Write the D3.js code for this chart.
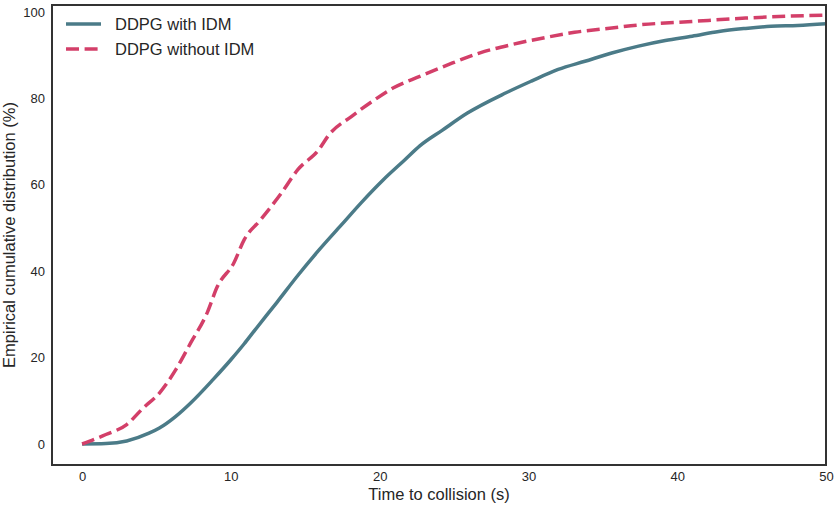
<!DOCTYPE html>
<html>
<head>
<meta charset="utf-8">
<script src="https://cdn.jsdelivr.net/npm/d3@7"></script>
<style>
  body { margin: 0; background: #fff; }
  svg { display: block; font-family: "Liberation Sans", Arial, sans-serif; }
</style>
</head>
<body>
<div id="chart"></div>
<script>
// time to collision (s) and empirical CDF (%)
const timeWithIdm = [0, 1.6, 3.0, 4.5, 5.2, 6.3, 7.3, 8.8, 10.0, 10.9, 11.6, 13.1, 14.5, 15.9, 17.4, 18.8, 20.2, 21.7, 22.7, 24.2, 25.9, 28.5, 30.2, 32.0, 33.8, 35.6, 37.4, 39.2, 41.0, 42.8, 44.6, 46.3, 48.1, 50];
const cdfWithIdm = [0, 0.1, 0.7, 2.5, 3.7, 6.4, 9.5, 14.9, 19.5, 23.2, 26.3, 32.8, 39.0, 44.8, 50.6, 56.0, 61.0, 65.8, 69.0, 72.6, 76.6, 81.3, 84, 86.7, 88.6, 90.5, 92.1, 93.4, 94.4, 95.5, 96.2, 96.7, 96.9, 97.3];

const timeWithoutIdm = [0, 1.6, 3.0, 4.1, 5.2, 6.3, 7.3, 8.4, 9.1, 10.2, 10.9, 12.0, 13.4, 14.5, 15.9, 16.6, 18.1, 19.5, 20.9, 22.7, 24.9, 26.7, 28.8, 31.0, 33.1, 35.6, 37.4, 41.0, 44.6, 50];
const cdfWithoutIdm = [0, 2.2, 4.5, 8.3, 11.8, 17.2, 23.4, 30.3, 36.5, 41.9, 47.3, 51.9, 58.1, 63.5, 68.1, 71.6, 75.8, 79.3, 82.4, 85.1, 88.2, 90.5, 92.4, 94, 95.3, 96.3, 97, 97.8, 98.6, 99.3];

const xTicks = [0, 10, 20, 30, 40, 50];
const yTicks = [0, 20, 40, 60, 80, 100];
const seriesNames = ["DDPG with IDM", "DDPG without IDM"];

const svgWidth = 835;
const svgHeight = 505;
const margin = { top: 5, right: 9, bottom: 40, left: 52 };
const chartWidth = svgWidth - margin.left - margin.right;
const chartHeight = svgHeight - margin.top - margin.bottom;

const svg = d3.select("#chart")
    .append("svg")
    .attr("width", svgWidth)
    .attr("height", svgHeight);

const chart = svg.append("g")
    .attr("transform", `translate(${margin.left},${margin.top})`);

const xScale = d3.scaleLinear()
    .domain([-2.02, 50])
    .range([0, chartWidth]);

const yScale = d3.scaleLinear()
    .domain([-4.86, 101.62])
    .range([chartHeight, 0]);

chart.append("clipPath")
    .attr("id", "clip")
    .append("rect")
    .attr("width", chartWidth)
    .attr("height", chartHeight);

// axes without tick marks (seaborn white style)
const xAxis = chart.append("g")
    .attr("transform", `translate(0,${chartHeight})`)
    .call(d3.axisBottom(xScale).tickValues(xTicks).tickSize(0).tickPadding(7));

const yAxis = chart.append("g")
    .call(d3.axisLeft(yScale).tickValues(yTicks).tickSize(0).tickPadding(7));

[xAxis, yAxis].forEach(ax => {
    ax.select(".domain").remove();
    ax.selectAll("text")
        .style("font-size", "13px")
        .style("font-family", "Liberation Sans, Arial, sans-serif")
        .attr("fill", "#262626");
});

const series = [
    { name: seriesNames[0], t: timeWithIdm, v: cdfWithIdm, color: "#4b7b88", dash: null },
    { name: seriesNames[1], t: timeWithoutIdm, v: cdfWithoutIdm, color: "#d33f69", dash: "13,5.6" }
];

const line = d3.line()
    .curve(d3.curveMonotoneX)
    .x(d => xScale(d[0]))
    .y(d => yScale(d[1]));

chart.selectAll(".series")
    .data(series)
    .enter()
    .append("path")
    .attr("class", "series")
    .attr("clip-path", "url(#clip)")
    .attr("d", s => line(s.t.map((t, i) => [t, s.v[i]])))
    .attr("fill", "none")
    .attr("stroke", s => s.color)
    .attr("stroke-width", 3.5)
    .attr("stroke-dasharray", s => s.dash);

// frame
chart.append("rect")
    .attr("width", chartWidth)
    .attr("height", chartHeight)
    .attr("fill", "none")
    .attr("stroke", "#333")
    .attr("stroke-width", 2);

// axis labels
svg.append("text")
    .attr("x", margin.left + chartWidth / 2)
    .attr("y", 500)
    .attr("text-anchor", "middle")
    .style("font-size", "16.5px")
    .attr("fill", "#262626")
    .text("Time to collision (s)");

svg.append("text")
    .attr("transform", `translate(15,${margin.top + chartHeight / 2}) rotate(-90)`)
    .attr("text-anchor", "middle")
    .style("font-size", "16.5px")
    .attr("fill", "#262626")
    .text("Empirical cumulative distribution (%)");

// legend
const legend = svg.selectAll(".legend")
    .data(series)
    .enter()
    .append("g")
    .attr("class", "legend")
    .attr("transform", (d, i) => `translate(66,${24 + i * 25})`);

legend.append("line")
    .attr("x1", 0)
    .attr("x2", 35)
    .attr("stroke", d => d.color)
    .attr("stroke-width", 3.5)
    .attr("stroke-dasharray", d => d.dash);

legend.append("text")
    .attr("x", 49)
    .attr("dy", "0.35em")
    .style("font-size", "16.5px")
    .attr("fill", "#262626")
    .text(d => d.name);
</script>
</body>
</html>
